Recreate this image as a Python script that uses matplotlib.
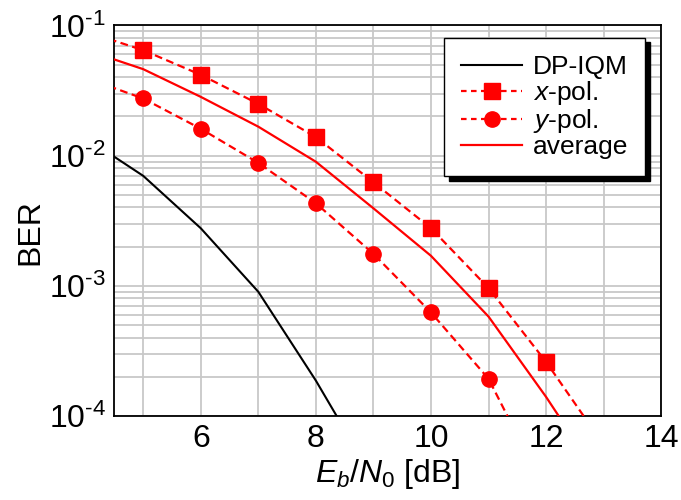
import numpy as np
import matplotlib
matplotlib.use("Agg")
import matplotlib.pyplot as plt
from matplotlib.ticker import FixedLocator, FixedFormatter, LogLocator, NullFormatter

plt.rcParams['font.family'] = ['Liberation Sans', 'DejaVu Sans']
plt.rcParams['mathtext.fontset'] = 'custom'
plt.rcParams['mathtext.rm'] = 'Liberation Sans'
plt.rcParams['mathtext.it'] = 'Liberation Sans:italic'
plt.rcParams['mathtext.bf'] = 'Liberation Sans:bold'

# Data
ebn0 = [4, 5, 6, 7, 8, 9, 10, 11, 12, 13]
dp_iqm_x = [4, 5, 6, 7, 8, 9]
dp_iqm = [1.37e-2, 7.0e-3, 2.77e-3, 9.0e-4, 1.87e-4, 3.3e-5]
xpol = [0.090, 0.0646, 0.0418, 0.0250, 0.0139, 6.24e-3, 2.77e-3, 9.6e-4, 2.6e-4, 6.0e-5]
ypol_x = [4, 5, 6, 7, 8, 9, 10, 11, 12]
ypol = [0.0396, 0.0275, 0.0161, 0.0088, 4.31e-3, 1.76e-3, 6.24e-4, 1.93e-4, 2.6e-5]
avg = [0.065, 0.0462, 0.0283, 0.0167, 8.98e-3, 3.94e-3, 1.70e-3, 5.8e-4, 1.4e-4, 3.0e-5]
marker_x = [5, 6, 7, 8, 9, 10, 11, 12]
xpol_m = [0.0646, 0.0418, 0.0250, 0.0139, 6.24e-3, 2.77e-3, 9.6e-4, 2.6e-4]
ypol_m_x = [5, 6, 7, 8, 9, 10, 11]
ypol_m = [0.0275, 0.0161, 0.0088, 4.31e-3, 1.76e-3, 6.24e-4, 1.93e-4]

xticks = [6, 8, 10, 12, 14]
yticks = [1e-4, 1e-3, 1e-2, 1e-1]
ytick_labels = [r'10$^{\text{-}4}$', r'10$^{\text{-}3}$', r'10$^{\text{-}2}$', r'10$^{\text{-}1}$']

fig = plt.figure(figsize=(6.81, 5.0), dpi=100)
ax = fig.add_axes([0.168, 0.168, 0.803, 0.781])

red = '#ff0000'
dash = (3.5, 2.0)

ax.plot(dp_iqm_x, dp_iqm, color='black', lw=1.5, zorder=3)
ax.plot(ebn0, xpol, color=red, lw=1.6, ls='--', dashes=dash, zorder=3)
ax.plot(marker_x, xpol_m, color=red, ls='none', marker='s', ms=11.5, mec=red, mfc=red, zorder=4)
ax.plot(ypol_x, ypol, color=red, lw=1.6, ls='--', dashes=dash, zorder=3)
ax.plot(ypol_m_x, ypol_m, color=red, ls='none', marker='o', ms=11, mec=red, mfc=red, zorder=4)
ax.plot(ebn0, avg, color=red, lw=1.6, zorder=3)

# legend proxies
h1, = ax.plot([], [], color='black', lw=1.5)
h2, = ax.plot([], [], color=red, lw=1.6, ls='--', dashes=(2.5, 2.0), marker='s', ms=11)
h3, = ax.plot([], [], color=red, lw=1.6, ls='--', dashes=(2.5, 2.0), marker='o', ms=11)
h4, = ax.plot([], [], color=red, lw=1.6)

ax.set_yscale('log')
ax.set_xlim(4.5, 14)
ax.set_ylim(1e-4, 1e-1)

ax.xaxis.set_major_locator(FixedLocator(xticks))
ax.xaxis.set_minor_locator(FixedLocator([5, 7, 9, 11, 13]))
ax.yaxis.set_major_locator(FixedLocator(yticks))
ax.yaxis.set_major_formatter(FixedFormatter(ytick_labels))
ax.yaxis.set_minor_locator(LogLocator(base=10, subs=np.arange(2, 10), numticks=20))
ax.yaxis.set_minor_formatter(NullFormatter())

ax.grid(True, which='both', color='#c8c8c8', lw=1.3, zorder=0)
ax.set_axisbelow(True)
ax.tick_params(which='both', length=0, labelsize=23, pad=6)
for s in ax.spines.values():
    s.set_linewidth(1.3)

ax.set_xlabel(r'$E_b$/$N_{\mathit{0}}$ [dB]', fontsize=23, labelpad=2)
ax.set_ylabel('BER', fontsize=23)
ax.yaxis.label.set_va('center')
ax.yaxis.set_label_coords(-0.153, 0.47)

leg = ax.legend([h1, h2, h3, h4], ['DP-IQM', r'$x$-pol.', r'$y$-pol.', 'average'],
                loc='upper right', bbox_to_anchor=(0.9707, 0.9675), fontsize=19,
                frameon=True, fancybox=False, edgecolor='black', framealpha=1,
                shadow={'color': 'black', 'alpha': 1, 'ox': 3.5, 'oy': -3},
                handlelength=2.3, handletextpad=0.4, borderpad=0.65, labelspacing=0.0,
                borderaxespad=0.0)
leg.get_frame().set_linewidth(1.0)

fig.savefig('out.png', dpi=100)
